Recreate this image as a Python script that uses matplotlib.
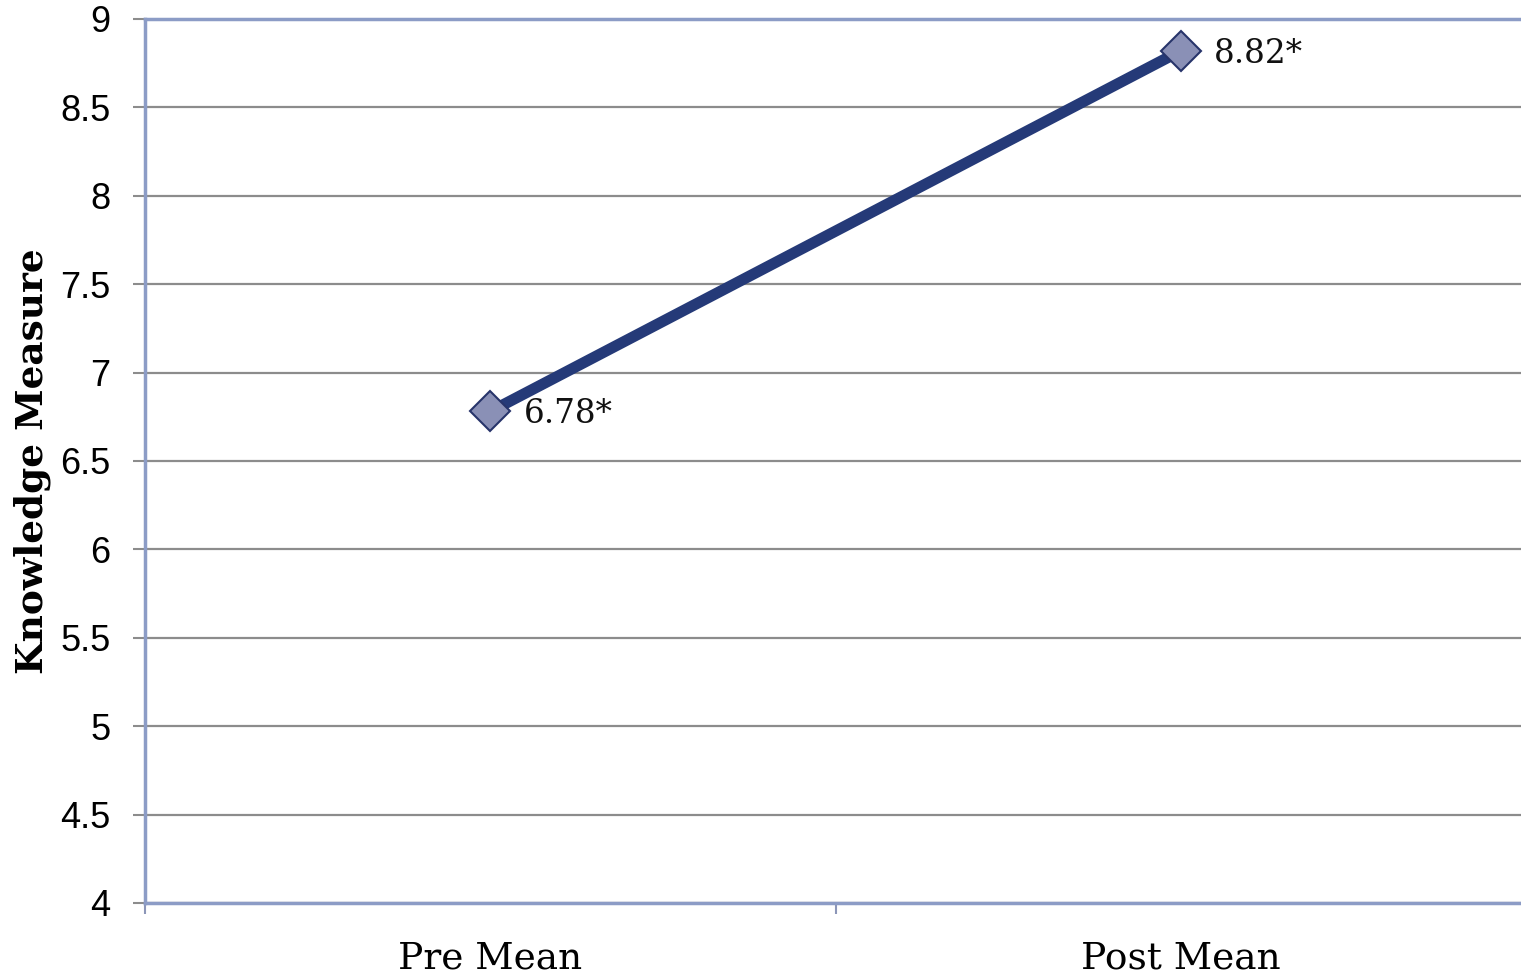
import numpy as np
import matplotlib.pyplot as plt

categories = ['Pre Mean', 'Post Mean']
means = [6.78, 8.82]
labels = ['6.78*', '8.82*']

fig = plt.figure(figsize=(15.21, 9.77), dpi=100)
ax = fig.add_axes([145 / 1521, 74 / 977, 1381 / 1521, 884 / 977])

x = np.arange(len(categories))
ax.plot(x, means, color='#253a78', linewidth=8, solid_capstyle='butt',
        marker='D', markersize=20, markerfacecolor='#8a90b6',
        markeredgecolor='#27346a', markeredgewidth=1.5, zorder=3)
for xi, yi, lab in zip(x, means, labels):
    ax.annotate(lab, (xi, yi), xytext=(24, -2), textcoords='offset points',
                ha='left', va='center', fontsize=23.5, family='DejaVu Serif',
                color='#111111')

ax.set_xlim(-0.5, 1.5)
ax.set_ylim(4, 9)
ax.set_yticks(np.arange(4, 9.01, 0.5))
ax.set_yticklabels(['4', '4.5', '5', '5.5', '6', '6.5', '7', '7.5', '8', '8.5', '9'],
                   family='Liberation Sans', fontsize=26)
ax.yaxis.grid(True, color='#8c8c8c', linewidth=1.6)
ax.set_axisbelow(True)

# category boundaries carry the tick marks, names sit in between
ax.set_xticks([-0.5, 0.5, 1.5])
ax.set_xticklabels([])
ax.set_xticks(x, minor=True)
ax.set_xticklabels(categories, minor=True, family='DejaVu Serif', fontsize=27)
ax.tick_params(axis='x', which='major', length=8, width=1.5, color='#8c96b8')
ax.tick_params(axis='x', which='minor', length=0, pad=27)
ax.tick_params(axis='y', length=9, width=1.5, color='#8c8c8c', pad=16)

for side in ['left', 'bottom', 'top']:
    ax.spines[side].set_color('#8c9cc6')
    ax.spines[side].set_linewidth(2.5)
ax.spines['right'].set_visible(False)

ax.set_ylabel('Knowledge Measure', family='DejaVu Serif', fontweight='bold',
              fontsize=27)
ax.yaxis.set_label_coords(-0.068, 0.5)

fig.savefig('out.png', dpi=100)
